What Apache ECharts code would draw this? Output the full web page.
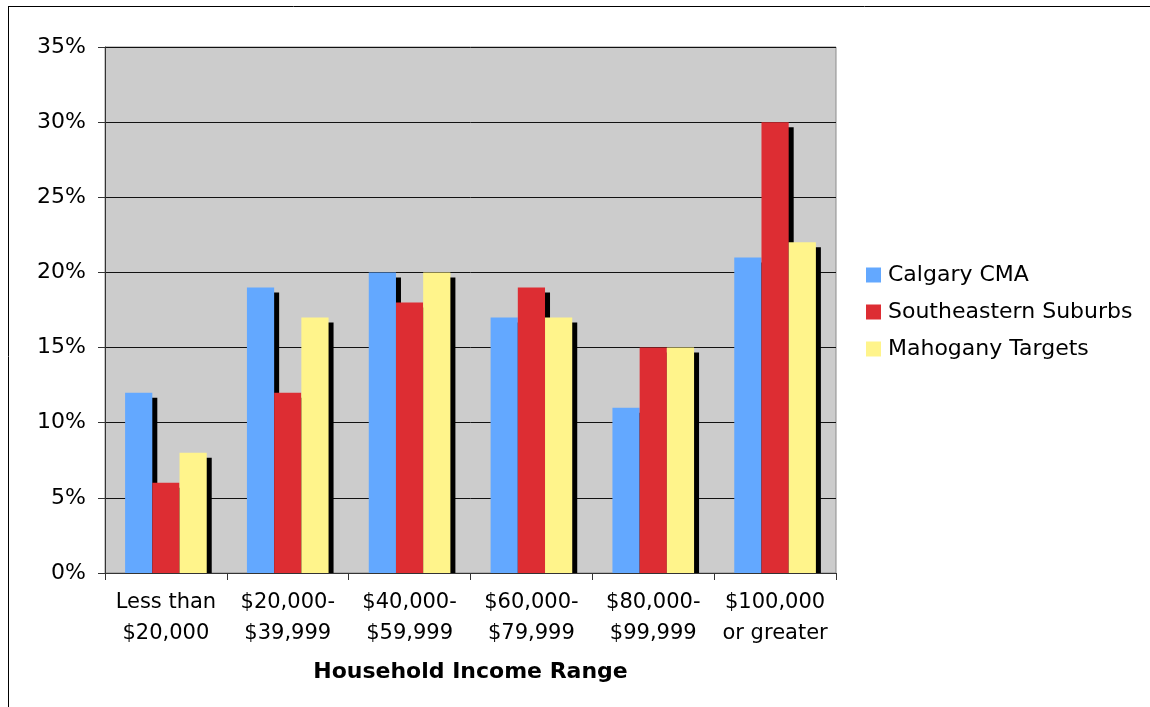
<!DOCTYPE html>
<html><head><meta charset="utf-8">
<script src="https://cdn.jsdelivr.net/npm/echarts@6/dist/echarts.min.js"></script>
<style>html,body{margin:0;padding:0;background:#fff}#c{width:1150px;height:707px}</style>
</head><body><div id="c"></div>
<script>
const categories = ["Less than\n$20,000", "$20,000-\n$39,999", "$40,000-\n$59,999", "$60,000-\n$79,999", "$80,000-\n$99,999", "$100,000\nor greater"];
const calgaryCMA = [12, 19, 20, 17, 11, 21];
const southeasternSuburbs = [6, 12, 18, 19, 15, 30];
const mahoganyTargets = [8, 17, 20, 17, 15, 22];
const seriesNames = ["Calgary CMA", "Southeastern Suburbs", "Mahogany Targets"];
const colors = ["#63A8FF", "#DD2D33", "#FFF48B"];
const xAxisTitle = "Household Income Range";

const font = "DejaVu Sans";
const chart = echarts.init(document.getElementById('c'), null, {renderer: 'canvas'});
const shadow = {shadowColor: '#000', shadowBlur: 0, shadowOffsetX: 5, shadowOffsetY: 5};
function mk(name, data, color) {
  return {name, type: 'bar', data, barGap: '0%', barCategoryGap: '33%', z: 2,
    itemStyle: Object.assign({color}, shadow), emphasis: {disabled: true}};
}
chart.setOption({
  animation: false,
  color: colors,
  grid: {left: 105, right: 314, top: 47, bottom: 134, show: true, backgroundColor: '#CCCCCC', borderColor: '#8C8C8C', borderWidth: 1},
  legend: {
    orient: 'vertical', left: 866, top: 264, padding: 0, itemWidth: 15, itemHeight: 15, itemGap: 15,
    icon: 'rect', data: seriesNames,
    textStyle: {fontFamily: font, fontSize: 22, color: '#000', padding: [0, 0, 0, 2]}
  },
  xAxis: {
    type: 'category', data: categories, z: 5,
    axisLine: {lineStyle: {color: '#333', width: 1}},
    axisTick: {show: true, alignWithLabel: false, length: 7, lineStyle: {color: '#333'}},
    axisLabel: {interval: 0, margin: 14, fontFamily: font, fontSize: 21, color: '#000', lineHeight: 31},
    name: xAxisTitle, nameLocation: 'middle', nameGap: 88,
    nameTextStyle: {fontFamily: font, fontSize: 22, fontWeight: 'bold', color: '#000'}
  },
  yAxis: {
    type: 'value', min: 0, max: 35, interval: 5,
    axisLine: {show: true, lineStyle: {color: '#333'}},
    axisTick: {show: true, length: 7, lineStyle: {color: '#333'}},
    axisLabel: {formatter: '{value}%', margin: 19, fontFamily: font, fontSize: 22, color: '#000'},
    splitLine: {show: true, lineStyle: {color: '#111', width: 1}}
  },
  graphic: [
    {type: 'rect', z: 3, shape: {x: 106, y: 574, width: 740, height: 6}, style: {fill: '#fff'}},
    {type: 'line', z: 10, shape: {x1: 8, y1: 6.5, x2: 1150, y2: 6.5}, style: {stroke: '#000', lineWidth: 1}},
    {type: 'line', z: 10, shape: {x1: 8.5, y1: 6, x2: 8.5, y2: 707}, style: {stroke: '#000', lineWidth: 1}}
  ],
  series: [
    mk(seriesNames[0], calgaryCMA, colors[0]),
    mk(seriesNames[1], southeasternSuburbs, colors[1]),
    mk(seriesNames[2], mahoganyTargets, colors[2])
  ]
});
</script></body></html>
